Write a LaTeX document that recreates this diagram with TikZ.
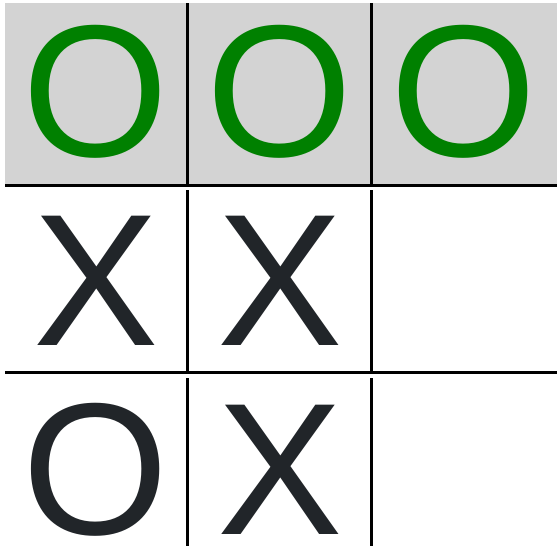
\documentclass[tikz,border=0pt]{standalone}
\usepackage{fontspec}
\setmainfont{Liberation Sans}
\definecolor{cellgray}{HTML}{D3D3D3}
\definecolor{winGreen}{HTML}{008000}
\definecolor{markDark}{HTML}{212529}
\begin{document}
\begin{tikzpicture}[x=1pt,y=-1pt,
  gridline/.style={draw=black,line width=3pt},
  cellmark/.style={anchor=base,inner sep=0pt,font=\fontsize{188}{188}\selectfont},
  winmark/.style={cellmark,text=winGreen},
  plainmark/.style={cellmark,text=markDark}]
\useasboundingbox (0,0) rectangle (560,546);
\fill[cellgray] (5,3) rectangle (557,184);
% horizontal lines
\draw[gridline] (5,185) -- (557,185);
\draw[gridline] (5,372.5) -- (557,372.5);
% vertical lines (row segments)
\draw[gridline] (187.5,3) -- (187.5,185);
\draw[gridline] (371.5,3) -- (371.5,185);
\draw[gridline] (187.5,190) -- (187.5,372.5);
\draw[gridline] (371.5,190) -- (371.5,372.5);
\draw[gridline] (187.5,378) -- (187.5,546);
\draw[gridline] (371.5,378) -- (371.5,546);
% marks
\node[winmark] (a1) at (96,156) {O};
\node[winmark] (a2) at (280,156) {O};
\node[winmark] (a3) at (464,156) {O};
\node[plainmark] (b1) at (96,345) {X};
\node[plainmark] (b2) at (280,345) {X};
\node[plainmark] (c1) at (96,534) {O};
\node[plainmark] (c2) at (280,534) {X};
\end{tikzpicture}
\end{document}
